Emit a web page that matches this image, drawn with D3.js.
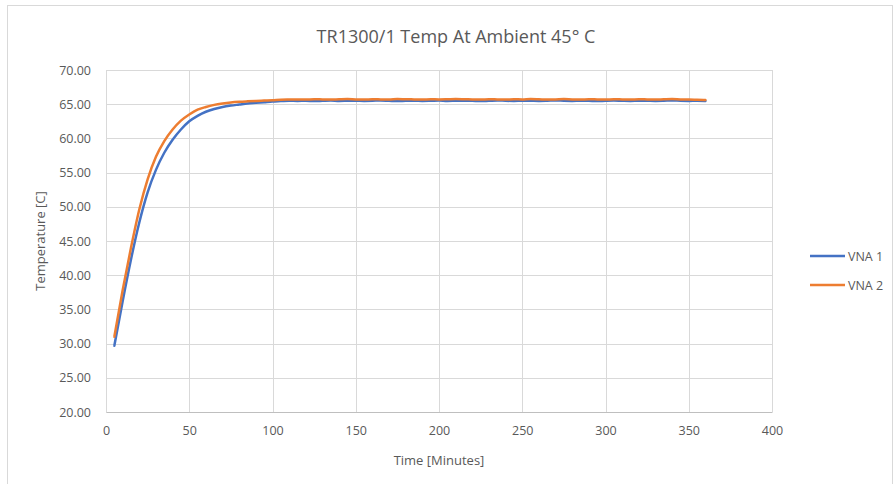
<!DOCTYPE html>
<html>
<head>
<meta charset="utf-8">
<script src="https://cdn.jsdelivr.net/npm/d3@7"></script>
<style>
  body { margin: 0; background: #fff; }
  text { font-family: "Open Sans", sans-serif; fill: #595959; }
</style>
</head>
<body>
<div id="chart"></div>
<script>
// Time in minutes (one reading every 5 minutes)
var times = [5, 10, 15, 20, 25, 30, 35, 40, 45, 50, 55, 60, 65, 70, 75, 80, 85, 90, 95, 100,
  105, 110, 115, 120, 125, 130, 135, 140, 145, 150, 155, 160, 165, 170, 175, 180, 185, 190, 195, 200,
  205, 210, 215, 220, 225, 230, 235, 240, 245, 250, 255, 260, 265, 270, 275, 280, 285, 290, 295, 300,
  305, 310, 315, 320, 325, 330, 335, 340, 345, 350, 355, 360];

var vna1 = [29.7, 36.2, 42.3, 47.7, 52.1, 55.4, 57.9, 59.8, 61.3, 62.5,
  63.3, 63.9, 64.3, 64.6, 64.8, 64.95, 65.1, 65.2, 65.3, 65.4,
  65.45, 65.50, 65.48, 65.52, 65.45, 65.50, 65.55, 65.47, 65.50, 65.52,
  65.48, 65.50, 65.55, 65.50, 65.45, 65.50, 65.52, 65.48, 65.50, 65.53,
  65.47, 65.50, 65.52, 65.50, 65.45, 65.50, 65.55, 65.50, 65.48, 65.52,
  65.50, 65.47, 65.50, 65.55, 65.50, 65.48, 65.52, 65.50, 65.45, 65.50,
  65.53, 65.50, 65.48, 65.52, 65.50, 65.47, 65.50, 65.55, 65.50, 65.48,
  65.50, 65.48];

var vna2 = [31.0, 37.8, 44.0, 49.6, 54.0, 57.3, 59.6, 61.3, 62.6, 63.5,
  64.2, 64.6, 64.9, 65.1, 65.25, 65.35, 65.42, 65.48, 65.53, 65.58,
  65.65, 65.68, 65.70, 65.68, 65.72, 65.70, 65.68, 65.72, 65.75, 65.70,
  65.68, 65.72, 65.70, 65.68, 65.75, 65.72, 65.70, 65.68, 65.72, 65.70,
  65.72, 65.75, 65.73, 65.70, 65.68, 65.72, 65.70, 65.68, 65.72, 65.70,
  65.75, 65.72, 65.68, 65.70, 65.75, 65.70, 65.68, 65.72, 65.70, 65.68,
  65.72, 65.70, 65.68, 65.72, 65.70, 65.68, 65.72, 65.75, 65.70, 65.68,
  65.65, 65.62];

var xTicks = [0, 50, 100, 150, 200, 250, 300, 350, 400];
var yTicks = [20, 25, 30, 35, 40, 45, 50, 55, 60, 65, 70];
var seriesNames = ["VNA 1", "VNA 2"];
var colors = ["#4472C4", "#ED7D31"];

var W = 894, H = 484;
var margin = {left: 106, right: 122, top: 70, bottom: 72},
    width = W - margin.left - margin.right,
    height = H - margin.top - margin.bottom;

var svg = d3.select("#chart").append("svg")
    .attr("width", W)
    .attr("height", H);

// chart border
svg.append("rect")
    .attr("x", 7.5).attr("y", 5.5)
    .attr("width", 885).attr("height", 490)
    .attr("fill", "#fff")
    .attr("stroke", "#d9d9d9");

var x = d3.scaleLinear().domain([0, 400]).range([0, width]);
var y = d3.scaleLinear().domain([20, 70]).range([height, 0]);

var g = svg.append("g")
    .attr("transform", "translate(" + margin.left + "," + margin.top + ")");

// grid
g.selectAll(".hgrid").data(yTicks).enter().append("line")
    .attr("x1", 0).attr("x2", width)
    .attr("y1", function(d){ return Math.round(y(d)) + 0.5; })
    .attr("y2", function(d){ return Math.round(y(d)) + 0.5; })
    .attr("stroke", "#d9d9d9");
g.selectAll(".vgrid").data(xTicks).enter().append("line")
    .attr("y1", 0).attr("y2", height)
    .attr("x1", function(d){ return Math.round(x(d)) + 0.5; })
    .attr("x2", function(d){ return Math.round(x(d)) + 0.5; })
    .attr("stroke", "#d9d9d9");

// axes
var xAxis = g.append("g")
    .attr("transform", "translate(0," + height + ")")
    .call(d3.axisBottom(x).tickValues(xTicks).tickSize(0).tickPadding(14));
xAxis.select(".domain").attr("stroke", "#bfbfbf");
xAxis.selectAll("text").style("font-size", "12.5px").attr("fill", "#595959");

var yAxis = g.append("g")
    .call(d3.axisLeft(y).tickValues(yTicks).tickFormat(d3.format(".2f")).tickSize(0).tickPadding(15));
yAxis.select(".domain").attr("stroke", "#d9d9d9");
yAxis.selectAll("text").style("font-size", "12.5px").attr("fill", "#595959");

// lines
var line = d3.line()
    .x(function(d){ return x(d[0]); })
    .y(function(d){ return y(d[1]); })
    .curve(d3.curveMonotoneX);

[vna1, vna2].forEach(function(vals, i) {
    g.append("path")
        .datum(times.map(function(t, j){ return [t, vals[j]]; }))
        .attr("fill", "none")
        .attr("stroke", colors[i])
        .attr("stroke-width", 2.5)
        .attr("stroke-linecap", "round")
        .attr("d", line);
});

// title
svg.append("text")
    .attr("x", 456).attr("y", 43)
    .attr("text-anchor", "middle")
    .style("font-size", "18px")
    .text("TR1300/1 Temp At Ambient 45\u00B0 C");

// axis titles
svg.append("text")
    .attr("x", margin.left + width / 2).attr("y", 465)
    .attr("text-anchor", "middle")
    .style("font-size", "13px")
    .text("Time [Minutes]");

svg.append("text")
    .attr("transform", "translate(45," + (margin.top + height / 2) + ") rotate(-90)")
    .attr("text-anchor", "middle")
    .style("font-size", "13px")
    .text("Temperature [C]");

// legend
var legend = svg.append("g");
seriesNames.forEach(function(name, i) {
    var ly = 256 + i * 29;
    legend.append("line")
        .attr("x1", 810).attr("x2", 845)
        .attr("y1", ly).attr("y2", ly)
        .attr("stroke", colors[i])
        .attr("stroke-width", 2.5);
    legend.append("text")
        .attr("x", 848).attr("y", ly + 4.5)
        .style("font-size", "12.5px")
        .text(name);
});
</script>
</body>
</html>
